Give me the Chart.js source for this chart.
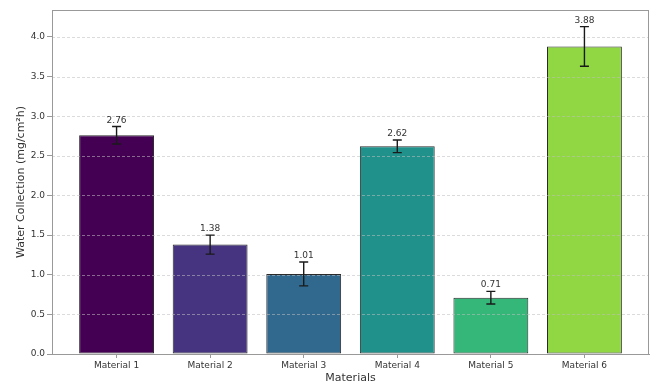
<!DOCTYPE html>
<html>
<head>
<meta charset="utf-8">
<script src="https://cdn.jsdelivr.net/npm/chart.js@4/dist/chart.umd.min.js"></script>
<style>
  html, body { margin: 0; padding: 0; background: #ffffff; }
  canvas { display: block; }
</style>
</head>
<body>
<canvas id="chart" width="655" height="385"></canvas>
<script>
// Water collection per material, mean and standard deviation
const materials = ["Material 1", "Material 2", "Material 3", "Material 4", "Material 5", "Material 6"];
const collection = [2.76, 1.38, 1.01, 2.62, 0.71, 3.88];
const deviation = [0.11, 0.12, 0.15, 0.08, 0.08, 0.25];
const yTickValues = [0, 0.5, 1.0, 1.5, 2.0, 2.5, 3.0, 3.5, 4.0];
const barColors = ["#440154", "#463480", "#31688e", "#21918c", "#35b779", "#90d743"];

const FONT = "'DejaVu Sans', sans-serif";
const TEXT = "#333333";
const SPINE = "#999999";

// Dashed grid over the bars, error bars with caps and value labels
const overlay = {
  id: "overlay",
  afterDatasetsDraw(chart) {
    const { ctx, chartArea: a, scales: { x, y } } = chart;
    ctx.save();
    // horizontal dashed grid
    ctx.strokeStyle = "rgba(190,190,190,0.7)";
    ctx.lineWidth = 0.8;
    ctx.setLineDash([3, 2]);
    yTickValues.forEach(v => {
      if (v === 0) return;
      const py = Math.round(y.getPixelForValue(v)) + 0.5;
      ctx.beginPath();
      ctx.moveTo(a.left, py);
      ctx.lineTo(a.right, py);
      ctx.stroke();
    });
    ctx.setLineDash([]);
    // error bars
    ctx.strokeStyle = "#1a1a1a";
    ctx.lineWidth = 1.4;
    const cap = 4.5;
    collection.forEach((v, i) => {
      const px = x.getPixelForValue(i);
      const top = y.getPixelForValue(v + deviation[i]);
      const bot = y.getPixelForValue(v - deviation[i]);
      ctx.beginPath();
      ctx.moveTo(px, top); ctx.lineTo(px, bot);
      ctx.moveTo(px - cap, top); ctx.lineTo(px + cap, top);
      ctx.moveTo(px - cap, bot); ctx.lineTo(px + cap, bot);
      ctx.stroke();
    });
    // value labels
    ctx.fillStyle = TEXT;
    ctx.font = "9px " + FONT;
    ctx.textAlign = "center";
    ctx.textBaseline = "alphabetic";
    collection.forEach((v, i) => {
      const px = x.getPixelForValue(i);
      const top = y.getPixelForValue(v + deviation[i]);
      ctx.fillText(v.toFixed(2), px, top - 4);
    });
    ctx.restore();
  },
  afterDraw(chart) {
    // frame around the plotting area
    const { ctx, chartArea: a } = chart;
    ctx.save();
    ctx.strokeStyle = SPINE;
    ctx.lineWidth = 1;
    ctx.strokeRect(a.left + 0.5, a.top + 0.5, a.right - a.left - 1, a.bottom - a.top);
    ctx.restore();
  }
};

new Chart(document.getElementById("chart"), {
  type: "bar",
  data: {
    datasets: [{
      data: collection.map((v, i) => ({ x: i, y: v })),
      backgroundColor: barColors,
      borderColor: "#2b2b2b",
      hoverBorderColor: "#2b2b2b",
      borderWidth: 1,
      borderSkipped: false,
      categoryPercentage: 0.8,
      barPercentage: 1.0
    }]
  },
  options: {
    responsive: false,
    animation: false,
    events: [],
    layout: { padding: { top: 10, right: 6, left: 0, bottom: 0 } },
    plugins: { legend: { display: false }, tooltip: { enabled: false } },
    scales: {
      x: {
        type: "linear",
        offset: false,
        min: -0.69,
        max: 5.69,
        afterBuildTicks(scale) { scale.ticks = materials.map((_, i) => ({ value: i })); },
        afterFit(scale) { scale.height = 31; },
        grid: { offset: false, drawOnChartArea: false, drawTicks: true, tickLength: 4, tickColor: SPINE },
        border: { display: true, color: SPINE },
        ticks: {
          autoSkip: false,
          maxRotation: 0,
          padding: 2,
          color: TEXT,
          font: { family: FONT, size: 9 },
          callback: v => materials[v] ?? ""
        },
        title: {
          display: true,
          text: "Materials",
          color: TEXT,
          font: { family: FONT, size: 11 },
          padding: { top: 0, bottom: 0 }
        }
      },
      y: {
        min: 0,
        max: 4.34,
        afterBuildTicks(scale) { scale.ticks = yTickValues.map(v => ({ value: v })); },
        afterFit(scale) { scale.width = 52; },
        grid: { drawOnChartArea: false, drawTicks: true, tickLength: 5, tickColor: SPINE },
        border: { display: true, color: SPINE },
        ticks: {
          padding: 2,
          color: TEXT,
          font: { family: FONT, size: 9 },
          callback: v => Number(v).toFixed(1)
        },
        title: {
          display: true,
          text: "Water Collection (mg/cm²h)",
          color: TEXT,
          font: { family: FONT, size: 11 },
          padding: { top: 15, bottom: 0 }
        }
      }
    }
  },
  plugins: [overlay]
});
</script>
</body>
</html>
